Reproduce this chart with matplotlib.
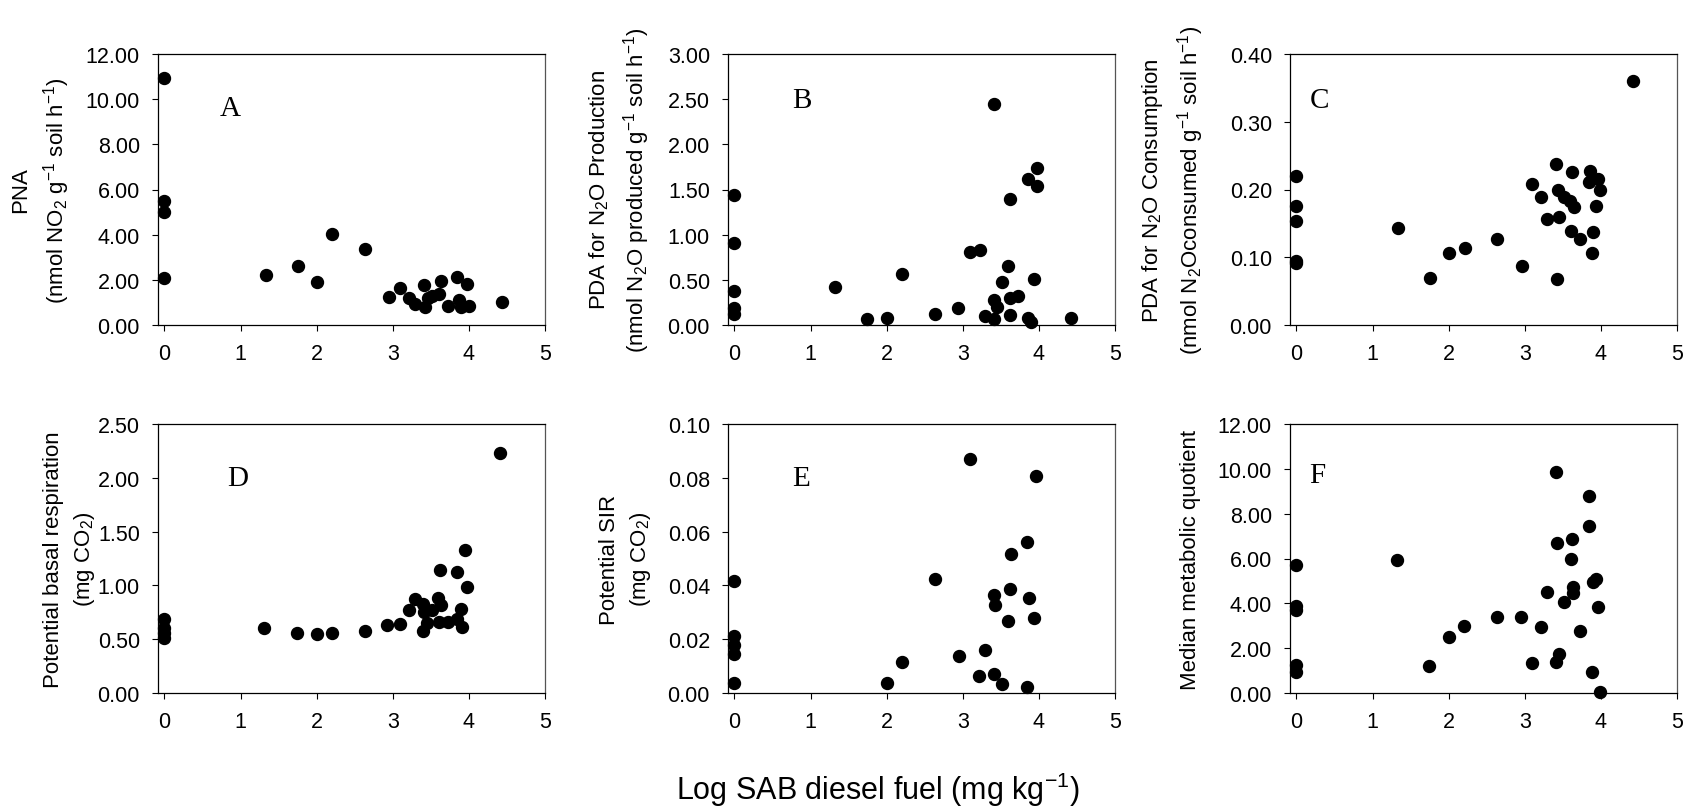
import matplotlib
matplotlib.use("Agg")
import matplotlib.pyplot as plt
from matplotlib.ticker import FormatStrFormatter, MultipleLocator

plt.rcParams['font.family'] = ['Liberation Sans', 'DejaVu Sans']
plt.rcParams['mathtext.fontset'] = 'custom'
plt.rcParams['mathtext.rm'] = 'Liberation Sans'
plt.rcParams['mathtext.it'] = 'Liberation Sans:italic'

# Panel A - PNA
a_x = [0, 0, 0, 0, 1.33, 1.75, 2.0, 2.2, 2.63, 2.95, 3.1, 3.21, 3.29, 3.41, 3.42,
       3.46, 3.52, 3.61, 3.63, 3.72, 3.85, 3.87, 3.9, 3.97, 4.0, 4.43]
a_y = [10.93, 5.5, 4.99, 2.07, 2.21, 2.6, 1.89, 4.03, 3.37, 1.23, 1.64, 1.18, 0.93, 1.79, 0.78,
       1.18, 1.3, 1.37, 1.93, 0.86, 2.14, 1.11, 0.78, 1.81, 0.83, 1.0]

# Panel B - PDA production
b_x = [0, 0, 0, 0, 0, 1.32, 1.74, 2.0, 2.2, 2.63, 2.94, 3.09, 3.22, 3.29, 3.41, 3.415,
       3.415, 3.445, 3.52, 3.6, 3.62, 3.62, 3.62, 3.72, 3.86, 3.86, 3.9, 3.93, 3.97, 3.98, 4.42]
b_y = [1.44, 0.91, 0.38, 0.185, 0.12, 0.42, 0.066, 0.08, 0.56, 0.125, 0.19, 0.81, 0.835, 0.1, 2.446, 0.277,
       0.063, 0.196, 0.48, 0.657, 1.39, 0.295, 0.11, 0.325, 1.62, 0.081, 0.037, 0.505, 1.74, 1.54, 0.074]

# Panel C - PDA consumption
c_x = [0, 0, 0, 0, 0, 1.33, 1.75, 2.01, 2.21, 2.63, 2.96, 3.1, 3.21, 3.29, 3.41, 3.43,
       3.45, 3.42, 3.52, 3.6, 3.62, 3.61, 3.65, 3.72, 3.86, 3.85, 3.96, 3.99, 3.93, 3.9, 3.88, 4.42]
c_y = [0.220, 0.175, 0.153, 0.095, 0.092, 0.143, 0.069, 0.107, 0.114, 0.127, 0.087, 0.208, 0.189, 0.157,
       0.237, 0.200, 0.160, 0.068, 0.189, 0.183, 0.226, 0.139, 0.174, 0.127, 0.228, 0.211, 0.216,
       0.199, 0.175, 0.138, 0.106, 0.360]

# Panel D - basal respiration
d_x = [0, 0, 0, 0, 1.31, 1.74, 2.0, 2.2, 2.63, 2.93, 3.09, 3.21, 3.29, 3.4, 3.41, 3.4, 3.45,
       3.51, 3.6, 3.62, 3.64, 3.61, 3.72, 3.84, 3.89, 3.85, 3.91, 3.95, 3.98, 4.41]
d_y = [0.69, 0.60, 0.56, 0.51, 0.60, 0.56, 0.545, 0.56, 0.576, 0.635, 0.644, 0.772, 0.875, 0.825,
       0.757, 0.576, 0.654, 0.769, 0.887, 1.146, 0.816, 0.66, 0.66, 1.121, 0.778, 0.685, 0.616,
       1.333, 0.981, 2.226]

# Panel E - SIR
e_x = [0, 0, 0, 0, 0, 2.0, 2.2, 2.63, 2.95, 3.09, 3.21, 3.29, 3.41, 3.42, 3.41, 3.52, 3.63,
       3.62, 3.6, 3.84, 3.87, 3.93, 3.84, 3.96]
e_y = [0.0415, 0.0212, 0.0178, 0.0144, 0.0037, 0.0039, 0.0114, 0.0422, 0.0138, 0.0870, 0.0065,
       0.0160, 0.0363, 0.0326, 0.0071, 0.0033, 0.0515, 0.0386, 0.0266, 0.0562, 0.0353, 0.0280,
       0.0022, 0.0808]

# Panel F - metabolic quotient
f_x = [0, 0, 0, 0, 0, 1.32, 1.74, 2.0, 2.2, 2.64, 2.95, 3.09, 3.21, 3.29, 3.41, 3.42, 3.41,
       3.45, 3.52, 3.62, 3.61, 3.63, 3.64, 3.72, 3.85, 3.85, 3.9, 3.93, 3.88, 3.96, 3.99]
f_y = [5.73, 3.90, 3.72, 1.26, 0.93, 5.93, 1.21, 2.49, 2.98, 3.39, 3.41, 1.33, 2.94, 4.50, 9.87,
       6.67, 1.37, 1.76, 4.04, 6.86, 5.99, 4.75, 4.46, 2.75, 8.78, 7.45, 4.94, 5.09, 0.93, 3.84, 0.04]

panels = [
    (a_x, a_y, 'A', 12, 2, 'PNA\n(nmol NO$_2$ g$^{-1}$ soil h$^{-1}$)'),
    (b_x, b_y, 'B', 3, 0.5, 'PDA for N$_2$O Production\n(nmol N$_2$O produced g$^{-1}$ soil h$^{-1}$)'),
    (c_x, c_y, 'C', 0.4, 0.1, 'PDA for N$_2$O Consumption\n(nmol N$_2$Oconsumed g$^{-1}$ soil h$^{-1}$)'),
    (d_x, d_y, 'D', 2.5, 0.5, 'Potential basal respiration\n(mg CO$_2$)'),
    (e_x, e_y, 'E', 0.1, 0.02, 'Potential SIR\n(mg CO$_2$)'),
    (f_x, f_y, 'F', 12, 2, 'Median metabolic quotient'),
]

W, H = 1692, 812
fig = plt.figure(figsize=(W / 100, H / 100), dpi=100)

lefts = [158, 728, 1290]
rows = [(55, 326), (425, 694)]
label_right = [72, 652, 1206, 97, 653, 1201]
letter_pos = [(0.16, 0.80), (0.165, 0.83), (0.05, 0.83), (0.18, 0.80), (0.165, 0.80), (0.05, 0.81)]

for i, (xs, ys, letter, ymax, ystep, ylab) in enumerate(panels):
    top, bot = rows[i // 3]
    left = lefts[i % 3]
    ax = fig.add_axes([left / W, (H - bot) / H, 387 / W, (bot - top) / H])
    ax.plot(xs, ys, 'o', color='black', ms=8.6, clip_on=False)
    ax.set_xlim(-0.085, 5)
    ax.set_ylim(0, ymax)
    ax.set_xticks(range(6))
    ax.yaxis.set_major_locator(MultipleLocator(ystep))
    ax.yaxis.set_major_formatter(FormatStrFormatter('%.2f'))
    ax.tick_params(direction='out', length=4, width=0.8, labelsize=15.5, pad=9)
    for s in ax.spines.values():
        s.set_linewidth(0.9)
    ax.spines['right'].set_color('#555555')
    ax.text(letter_pos[i][0], letter_pos[i][1], letter, transform=ax.transAxes,
            family=['Liberation Serif', 'DejaVu Serif'], fontsize=21, ha='left', va='center')
    fig.text(label_right[i] / W, (H - (top + bot) / 2) / H, ylab, rotation=90,
             ha='right', va='center', multialignment='center', fontsize=16, linespacing=1.45)

fig.text(878 / W, (H - 790) / H, 'Log SAB diesel fuel (mg kg$^{-1}$)', ha='center', va='center', fontsize=22)

fig.savefig('out.png', dpi=100)
